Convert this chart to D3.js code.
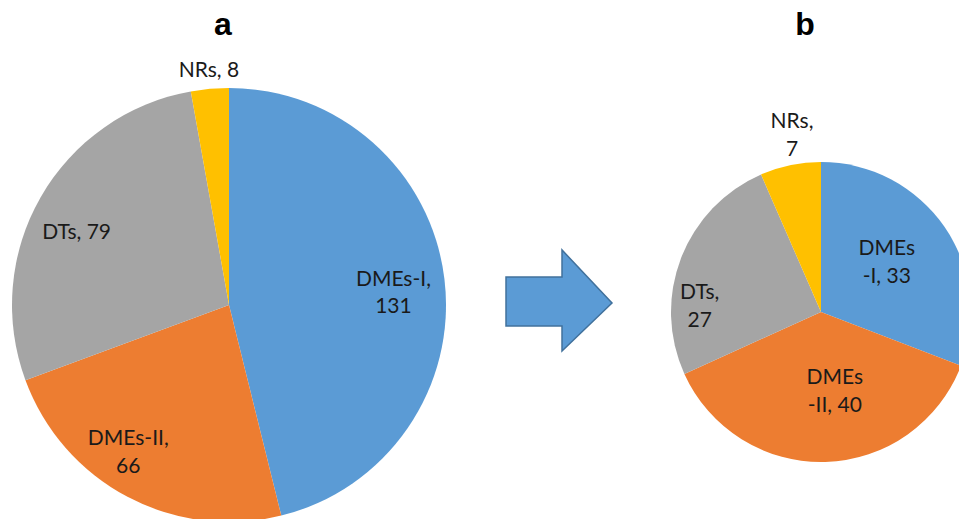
<!DOCTYPE html>
<html>
<head>
<meta charset="utf-8">
<script src="https://cdn.jsdelivr.net/npm/d3@7"></script>
<style>
    body { margin: 0; background: #fff; }
    svg { display: block; }
    .label { font-family: Lato, 'Noto Sans', sans-serif; font-size: 21px; fill: #1a1a1a; }
    .title { font-family: 'Liberation Sans', Arial, sans-serif; font-size: 32px; font-weight: bold; fill: #000; }
</style>
</head>
<body>
<svg id="chart"></svg>
<script>
const categories = ['DMEs-I', 'DMEs-II', 'DTs', 'NRs']
const valuesA = [131, 66, 79, 8]
const valuesB = [33, 40, 27, 7]
const titles = ['a', 'b']
// label lines as they were wrapped in the figure
const labelsA = [['DMEs-I,', '131'], ['DMEs-II,', '66'], ['DTs, 79'], ['NRs, 8']]
const labelsB = [['DMEs', '-I, 33'], ['DMEs', '-II, 40'], ['DTs,', '27'], ['NRs,', '7']]

const colors = ['#5b9bd5', '#ed7d31', '#a5a5a5', '#ffc000']

const width = 959, height = 519

const svg = d3.select('#chart').attr('width', width).attr('height', height)

const color = d3.scaleOrdinal().domain(categories).range(colors)

// pie layouts: centre, radius, and label placement (radius fraction, angle nudge in degrees)
const panels = [
    {values: valuesA, labels: labelsA, title: titles[0], cx: 229, cy: 305, r: 217, titleX: 223,
        place: [[0.76, 2.5], [0.82, 6.6], [0.78, -4], [1.09, 0.2]]},
    {values: valuesB, labels: labelsB, title: titles[1], cx: 821, cy: 312, r: 150, titleX: 805,
        place: [[0.55, -2.7], [0.53, -8.3], [0.81, -18], [1.2, 2.5]]}
]

const pie = d3.pie().sort(null).value(d => d.value)
const lineHeight = 28

panels.forEach(p => {
    const data = categories.map((c, i) => ({name: c, value: p.values[i], lines: p.labels[i], place: p.place[i]}))
    const arcs = pie(data)
    const arc = d3.arc().innerRadius(0).outerRadius(p.r)

    const g = svg.append('g').attr('transform', `translate(${p.cx}, ${p.cy})`)

    g.selectAll('path.slice')
        .data(arcs)
        .enter().append('path')
        .attr('class', 'slice')
        .attr('fill', d => color(d.data.name))
        .attr('d', arc)

    const text = g.selectAll('text.label')
        .data(arcs)
        .enter().append('text')
        .attr('class', 'label')
        .attr('text-anchor', 'middle')
        .attr('transform', d => {
            const rr = p.r * d.data.place[0]
            const mid = (d.startAngle + d.endAngle) / 2 + d.data.place[1] * Math.PI / 180
            const [x, y] = d3.arc().innerRadius(rr).outerRadius(rr).centroid({startAngle: mid, endAngle: mid})
            return `translate(${x}, ${y})`
        })

    text.selectAll('tspan')
        .data(d => d.data.lines.map((l, i) => ({l, i, n: d.data.lines.length})))
        .enter().append('tspan')
        .attr('x', 0)
        .attr('y', d => (d.i - (d.n - 1) / 2) * lineHeight)
        .attr('dy', '0.35em')
        .text(d => d.l)

    svg.append('text')
        .attr('class', 'title')
        .attr('x', p.titleX)
        .attr('y', 35)
        .attr('text-anchor', 'middle')
        .text(p.title)
})

// Block arrow between the two pies
const arrow = {x0: 506, x1: 562, x2: 612, shaftTop: 277, shaftBottom: 326, headTop: 250, headBottom: 351}
const mid = (arrow.shaftTop + arrow.shaftBottom) / 2 + 1.5
svg.append('path')
    .attr('fill', '#5b9bd5')
    .attr('stroke', '#41719c')
    .attr('stroke-width', 1.5)
    .attr('d', d3.line()([
        [arrow.x0, arrow.shaftTop], [arrow.x1, arrow.shaftTop], [arrow.x1, arrow.headTop],
        [arrow.x2, mid], [arrow.x1, arrow.headBottom], [arrow.x1, arrow.shaftBottom],
        [arrow.x0, arrow.shaftBottom]
    ]) + 'Z')
</script>
</body>
</html>
